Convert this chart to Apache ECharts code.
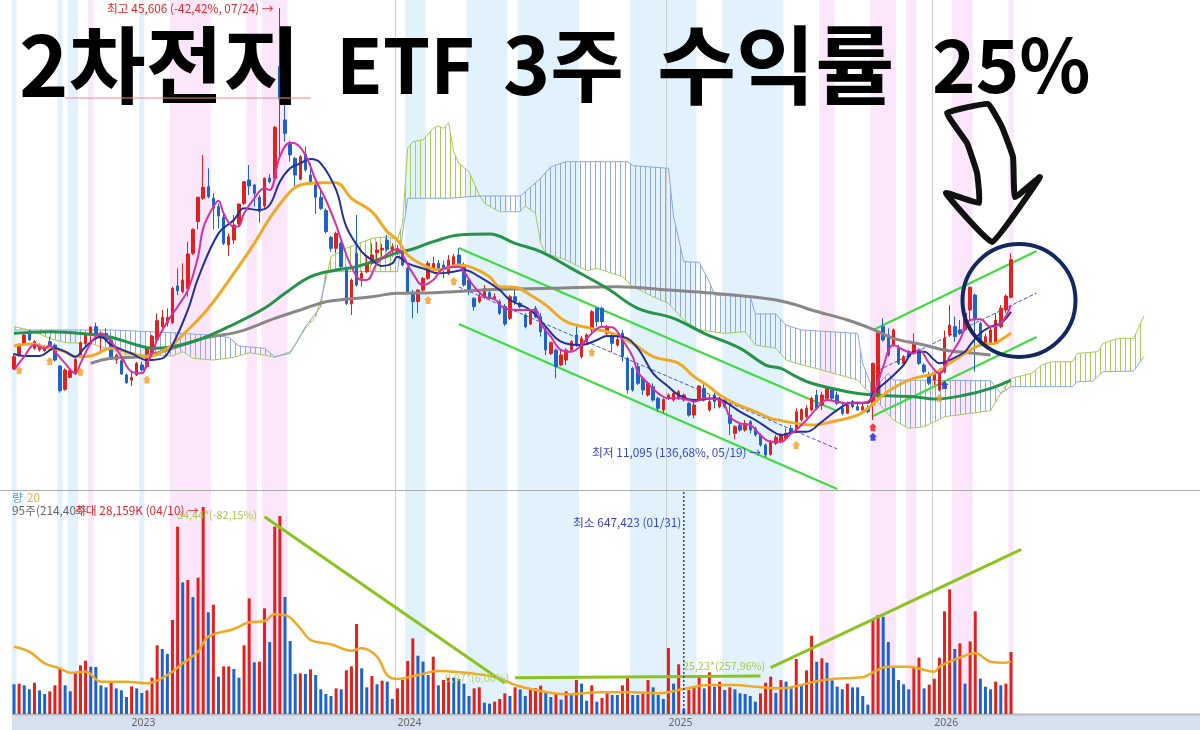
<!DOCTYPE html>
<html>
<head>
<meta charset="utf-8">
<title>2차전지 ETF</title>
<script src="https://cdn.jsdelivr.net/npm/echarts@6/dist/echarts.min.js"></script>
<style>
html, body { margin: 0; padding: 0; background: #fff; }
#chart { width: 1200px; height: 730px; }
</style>
</head>
<body>
<div id="chart"></div>
<script>
// weekly candles, [open, close, low, high]
var weeklyOhlc = [
[17890,18810,17785,19060],[18935,19705,18810,19830],[19830,20475,19705,20600],[20650,20090,20040,20860],[19450,19960,19320,20090],
[19320,19705,19190,19830],[19270,19575,19190,19705],[19960,19450,19320,20345],[19705,18550,18420,19830],[18090,16190,16040,18165],
[16295,17785,16190,17910],[17220,17730,17140,17835],[17475,18600,17400,18810],[18935,19880,18810,19960],[19830,20475,19450,20600],
[20550,21065,19830,21165],[21115,20475,20295,21420],[20215,20600,19060,20730],[20600,20090,19960,20985],[20090,18600,18550,20215],
[18550,18935,18245,19060],[18500,17475,17400,18600],[17400,16810,16710,17525],[17010,17220,16550,17655],[17400,18295,17320,18420],
[18165,17785,17655,18420],[18040,19450,17910,19575],[18935,20395,18810,20475],[20140,21575,20040,22140],[21115,21830,20860,22395],
[21420,21830,21115,22525],[21420,24060,21320,24190],[24240,23880,23545,25595],[23805,24700,23675,25980],[24060,26700,23420,27645],
[26750,28590,26620,28670],[29185,31055,28590,31105],[30980,31825,30850,34310],[31875,31105,30980,33285],[30980,30210,28590,31360],
[30335,29620,28670,30590],[29520,27520,27390,29825],[27390,28030,26545,28285],[27775,28930,27470,29695],[29005,30540,28850,30590],
[30590,32260,30465,32310],[32385,31925,31235,33540],[32000,31360,30335,32080],[31055,29950,29105,31235],[30385,32515,30210,32590],
[32515,32260,32130,32850],[32515,36435,32385,36535],[41100,38610,34180,45606],[37000,35970,35330,38535],[35150,34310,33795,35410],
[34050,32770,31925,34180],[32435,34180,32385,34310],[34385,33155,33025,34950],[32770,32130,32000,33670],[32000,31055,29775,32130],
[31055,30210,30080,31825],[30030,28415,28285,30210],[27980,27135,26880,28080],[27135,28285,26750,28415],[27520,25725,25595,27645],
[25470,22905,22780,25725],[22855,24700,22010,24830],[26750,24315,24190,29695],[24830,25210,24190,25415],[25340,25980,25210,26495],
[25980,26620,25855,27520],[26800,27005,25980,27645],[27005,27135,26495,27470],[27775,27060,26880,28160],[27005,27260,26495,27520],
[26880,27135,26620,27390],[26880,25855,25725,27135],[25595,23805,23675,25725],[23725,23035,21755,23930],[23035,23930,22140,23985],
[23930,24830,23805,24955],[24830,25980,24700,26160],[25470,25980,25340,26495],[25980,25470,25340,26235],[25855,25470,24830,26185],
[25210,26235,25085,26620],[25855,26495,25725,26700],[26620,25855,25775,27135],[25855,24315,24190,26060],[24700,23805,23545,24830],
[23290,22650,22345,23370],[23035,23420,22905,23675],[23420,24060,23265,24315],[23725,23290,23215,23930],[23290,23420,23165,23675],
[23035,22140,22010,23215],[22650,21320,21165,22855],[21755,23420,21625,23545],[23420,23035,22780,24060],[22905,22650,22525,23035],
[22010,21115,20985,22140],[21320,22265,21240,22395],[22525,21880,21755,22700],[21880,20730,20345,22140],[20860,19320,18935,21115],
[19060,19880,18935,19960],[19320,18040,17140,19450],[18165,18935,18090,19320],[18550,19320,18165,19450],[19320,19960,19190,20090],
[20475,19705,19575,21240],[18810,20215,18680,20395],[19960,20475,19830,20600],[20860,22265,20475,22395],[22525,21500,21115,22600],
[22525,21500,21115,22650],[20600,21115,20475,21240],[20345,19830,19190,20600],[19705,20140,19575,20600],[20600,18810,18420,20860],
[18680,16245,15990,18810],[17910,16245,16115,18040],[18040,16760,16630,18295],[17140,16245,15860,17270],[15860,16760,15735,16885],
[16500,15475,15350,16760],[15605,14835,14580,15735],[14705,15525,14500,15605],[15605,15860,15475,15990],[15475,15990,15350,16115],
[15605,16115,15475,16245],[15475,15860,15350,15990],[15220,14320,14195,15350],[14320,15090,14065,15350],[15475,16550,15350,16630],
[16375,15475,15350,16885],[14705,15350,14580,15860],[15860,15350,14835,16040],[14965,15605,14835,15735],[15475,14965,14835,15605],
[14320,13680,12785,15090],[12915,13425,12450,13555],[13555,13170,13040,13810],[13170,13680,13040,13940],[13810,13170,12915,13940],
[13300,12785,12660,13425],[12785,12020,11890,12915],[12020,11250,11095,12145],[11300,12275,11200,12400],[12145,12610,12020,12785],
[12275,12785,12145,12915],[12530,12915,12400,13300],[13300,12915,12785,13555],[13170,14580,12915,14835],[13940,14755,13810,14835],
[14195,14835,14065,15090],[14705,15605,14580,15735],[15860,14835,14705,16245],[15090,15860,14705,16115],[15605,16450,15475,16550],
[16245,15605,15475,16375],[15860,15220,15090,16115],[14835,14450,14320,15350],[14450,15090,14400,15350],[15350,14965,14835,15475],
[14965,14705,14655,15350],[14705,14965,14450,15170],[14835,14580,14450,15090],[15090,18295,13940,18345],[15735,20730,15605,20860],
[21115,20090,19960,21755],[20475,18935,18810,20985],[19705,20860,19575,20985],[19450,18295,18165,19705],[18295,18810,18165,18935],
[19190,18810,18680,19320],[19190,19880,19060,20600],[19320,18295,18165,19450],[18165,17655,17525,18295],[17400,16760,16630,17655],
[17010,17525,16630,17655],[16245,17785,16115,17910],[17655,20215,17525,20810],[20475,21240,20345,22780],[21115,20345,19960,21880],
[20860,20600,20475,21625],[20860,22140,20730,22395],[22395,24140,21500,24190],[23545,21755,17655,23675],[21370,19705,19575,21500],
[19830,20345,19705,20600],[19830,20860,19705,21115],[19960,21625,19830,22140],[21115,22525,20985,22780],[22395,23470,22140,23600],
[23370,26260,23290,26750]
];

// weekly volume in thousands of shares
var volumes = [
4040,4130,3900,3360,4260,3220,2720,3080,3900,6120,3900,3080,5530,6620,7250,6440,6390,3900,3630,4400,
3490,3220,2310,3760,3490,2860,3220,4940,9340,8840,8160,12790,25480,17910,18230,15910,18540,28159,13830,14870,
5080,6480,6480,6120,4940,9340,15730,7030,7120,14370,9790,25480,26930,15910,9930,5440,5530,5440,6080,5300,
3360,2720,2450,3490,3360,5940,6480,12240,6210,3630,5170,4040,4530,4400,2040,3490,
4620,7210,10290,7930,7120,5300,7800,3900,4620,4940,4940,4760,4130,2450,3490,3630,1540,1410,1680,2040,
2810,2450,3630,3360,2450,3360,3490,3850,2950,2310,2720,1950,3080,2580,4620,4130,1810,3900,1680,2180,
2810,2580,2580,3900,4900,2580,2580,2720,4620,3630,2580,2040,8980,4130,6760,647,3260,3720,5030,3490,
5670,3720,4400,3260,3630,3360,2810,2720,2450,1680,2810,4260,5080,2860,4620,4400,3490,7480,
4080,5940,10650,7120,7570,6980,4580,3720,3360,4130,3630,3630,2450,1270,12790,13470,13240,9790,6440,4620,
4040,3360,6440,7660,3490,3990,4810,7660,13960,16960,8840,9610,4130,9880,13960,4810,3720,3360,4400,3900,
4130,8430
];
// R red bar, B blue bar, one letter per week, ten weeks per chunk
var volumeColors = 'BRBBRBBRRR' + 'BBRRRBBBBR' + 'BBBRBBRRRB' + 'BRRBRBRRBR' + 'BRRBBRRBRR' + 'BRRBBBRBRB' + 'BBBRBRRRBB' + 'RBRBBR' +
	'RRRBBBRBRR' + 'BBBBRRBBRR' + 'RBRBBRRRBB' + 'RBRBRBBRBR' + 'RBBRRBBRRB' + 'BBRBRBRRRB' + 'RBRBRBBBBB' + 'RRRBRBBR' +
	'BRRBRBBBBR' + 'BBBBRRBBBB' + 'BBRRBRRRRR' + 'BRBRRBBBRB' + 'RR';

// moving averages, [week, price]
var ma5 = [[0,17785],[2,18810],[4,19705],[6,19450],[7,19705],[8,19190],[10,18295],[12,17525],[13,18295],[15,19830],[17,20600],[19,19960],[21,18810],[23,17655],[25,17525],[26,18295],[27,19060],[28,20090],[30,21500],[32,22650],[34,23930],[36,26495],[37,28670],[39,30335],[40,30800],[41,29825],[43,28800],[44,28850],[45,29825],[47,30980],[49,31745],[50,31620],[52,34180],[54,35255],[55,35205],[57,34310],[59,32385],[61,30850],[63,28930],[64,27775],[66,25725],[68,24700],[69,24700],[71,25980],[73,26700],[75,27060],[76,26620],[78,25210],[80,24315],[82,24700],[84,25595],[87,25725],[88,25340],[90,24190],[92,23420],[94,23215],[96,22525],[99,22395],[102,22395],[103,21370],[105,20345],[107,19320],[109,19190],[111,19705],[113,20600],[115,21115],[117,21065],[119,20090],[121,18810],[122,17655],[124,16760],[126,15990],[128,15605],[130,15605],[132,15475],[133,15350],[135,15605],[138,15475],[139,15090],[140,14195],[142,13680],[144,13555],[146,12785],[148,12275],[150,12275],[152,12915],[153,13170],[155,13940],[157,14835],[159,15475],[161,15350],[163,15220],[165,15220],[167,15350],[168,15735],[170,18040],[172,19705],[174,19320],[176,19060],[177,19320],[179,18295],[181,17525],[183,18810],[185,20090],[187,21625],[189,21675],[191,21115],[193,21370],[195,22780]];
var ma20 = [[0,19010],[2,18860],[5,18860],[8,19450],[10,19190],[12,18810],[14,19575],[17,20345],[19,19705],[23,19060],[26,18550],[29,18680],[31,19705],[34,22395],[36,24830],[40,28285],[43,29310],[45,30210],[48,30080],[50,30465],[52,32260],[54,33285],[56,33670],[58,34000],[60,33670],[63,31620],[65,28800],[68,26880],[70,26235],[72,25775],[74,25980],[75,26495],[77,25980],[80,25595],[83,25210],[86,25340],[88,25470],[91,24955],[95,23930],[97,23165],[101,22395],[104,21115],[107,19960],[111,19705],[114,20090],[116,20395],[119,20345],[122,19450],[125,17525],[128,16500],[130,15860],[133,15475],[137,15605],[139,15350],[142,14580],[145,13940],[148,13170],[150,12785],[153,13040],[155,13040],[158,13810],[161,14705],[164,15270],[167,15270],[168,15990],[171,17010],[174,18165],[176,19190],[178,19190],[180,18550],[181,18295],[183,18550],[186,19190],[187,19705],[189,20600],[191,21115],[193,21370],[195,22265]];
var ma60 = [[0,19630],[3,19780],[7,19450],[10,19190],[12,18810],[15,18860],[19,19450],[23,19060],[26,18810],[30,19450],[34,20860],[38,22525],[43,25210],[47,27520],[50,29440],[54,31490],[56,32000],[60,32180],[63,32180],[66,30980],[70,29950],[73,28415],[75,27775],[77,26620],[80,25855],[83,25470],[87,25855],[90,25595],[93,24955],[95,24190],[98,24140],[101,23545],[104,22780],[108,21500],[113,20985],[117,20600],[121,19830],[125,18810],[130,18295],[133,17270],[136,16500],[138,15860],[141,15220],[145,14580],[148,14065],[150,13890],[153,13680],[156,13555],[160,13810],[165,14320],[167,14835],[170,15860],[173,16630],[176,17140],[180,17525],[183,18295],[186,19060],[189,19705],[192,19830],[193,20090],[195,20600]];
var ma120 = [[0,20600],[7,20730],[15,20520],[19,20295],[24,19705],[27,19450],[31,19575],[36,20090],[42,21115],[49,22525],[53,23675],[58,24955],[63,25470],[67,25725],[71,26235],[75,26800],[78,27085],[82,27645],[87,28160],[93,28235],[98,27520],[103,26880],[109,25595],[116,24060],[122,22525],[129,21755],[135,20600],[142,19450],[147,18165],[150,17910],[153,17270],[156,16760],[163,16115],[168,15860],[176,15735],[180,15550],[186,15860],[191,16375],[195,17010]];
var ma240 = [[15,18295],[19,18680],[25,18810],[31,19450],[37,20215],[44,20730],[51,21755],[56,22395],[61,23035],[65,23215],[70,23420],[75,23675],[82,23725],[86,23805],[95,23985],[105,24060],[118,24190],[128,23930],[137,23675],[144,23420],[150,23090],[153,22780],[156,22395],[163,21625],[168,20910],[172,20215],[178,19705],[182,19320],[186,19140],[191,18935]];
var volumeMa = [[0,9160],[3,8480],[6,6890],[9,6210],[11,5620],[14,5760],[17,4400],[22,4400],[26,4170],[30,5300],[33,6890],[36,8480],[38,10520],[43,11560],[46,12470],[49,12650],[51,13560],[53,13470],[56,11650],[58,10070],[62,9480],[66,8610],[68,8930],[71,7800],[73,5300],[75,4760],[79,5300],[83,5850],[86,5760],[92,5300],[95,4850],[98,3940],[102,3260],[108,2680],[115,2950],[121,2950],[126,2810],[131,3400],[136,3940],[141,3940],[145,3720],[150,3490],[154,3940],[156,4310],[160,4760],[166,4990],[167,5300],[171,6440],[175,6440],[180,5760],[181,6440],[185,7660],[188,8250],[191,7120],[194,6980],[195,7210]];

// ichimoku cloud edges, [week, price]
var spanA = [[0,21115],[3,20860],[7,20215],[10,19880],[15,19830],[22,18935],[28,18935],[31,18860],[33,19190],[35,18680],[39,18550],[43,18755],[46,19110],[49,18935],[51,18755],[54,19190],[55,19705],[57,20985],[59,21880],[60,23165],[61,24700],[62,26495],[65,27135],[70,27905],[73,28030],[75,27775],[76,29055],[77,34820],[78,35330],[80,35460],[82,36360],[83,36535],[84,36360],[85,36790],[86,34565],[87,33670],[89,33025],[91,31235],[92,30590],[95,29950],[99,29950],[100,30390],[102,29825],[103,27520],[104,26750],[108,26235],[112,25420],[114,25595],[117,25210],[119,24955],[121,24190],[125,23420],[128,22905],[131,21625],[134,20860],[139,20600],[143,20730],[145,19705],[149,19450],[151,18550],[153,18295],[158,17785],[165,17010],[168,15735],[172,13940],[175,13300],[178,13425],[182,14195],[191,14655],[193,15990],[195,17140],[199,17525],[201,18165],[203,18420],[207,18420],[208,19060],[212,19190],[213,19830],[216,20215],[219,20215],[221,21935]];
var spanB = [[0,20860],[6,20860],[19,20860],[31,20650],[38,20475],[42,20295],[44,19630],[49,19450],[51,18810],[54,19060],[57,21115],[60,22650],[61,25340],[75,25340],[76,28285],[77,30980],[85,30980],[91,31160],[99,31160],[100,31490],[103,32515],[105,33410],[108,33795],[120,33795],[121,33490],[128,33285],[129,29570],[131,26110],[134,26060],[136,24570],[137,23545],[144,23420],[145,22090],[149,22090],[151,21240],[154,20860],[165,20600],[166,18295],[168,16245],[171,17525],[172,17010],[191,16960],[193,15990],[195,16500],[207,16500],[208,16885],[211,16935],[213,17655],[219,17705],[221,18810]];
// [first week, last week, which span is on top]
var cloudRegions = [[0,3,'A'],[3,51,'B'],[51,91,'A'],[91,193,'B'],[193,221,'A']];

// channel lines drawn on the price chart, [week, price]
var fallTop = [[87,27160],[161,14630]];
var fallMid = [[87,24162],[161,11712]];
var fallLow = [[87,21320],[161,8637]];
var riseTop = [[168,20857],[200,26930]];
var riseMid = [[168,17552],[200,23701]];
var riseLow = [[168,14247],[200,20320]];
// trend lines drawn on the volume chart, [week, volume]
var volFall = [[49,26840],[96,4230]];
var volFlat = [[98,4940],[146,5170]];
var volRise = [[148,6300],[197,22380]];

// signal arrows, [week, price]
var orangeSignals = [[1,17785],[7,18475],[13,17655],[26,17060],[81,23165],[86,24620],[113,19140],[153,12020],[181,15655]];
var redSignals = [[168,13375]];
var blueSignals = [[168,12660],[182,16630]];

// shaded week ranges
var blueBands = [[0,0],[9,9],[11,12],[25,25],[77,80],[89,96],[99,110],[121,133],[139,150]];
var pinkBands = [[15,15],[31,38],[46,47],[49,53],[158,160],[168,172],[175,176],[184,187],[195,195]];

var yearWeeks = [23,75,128,180];
var yearLabels = ['2023','2024','2025','2026'];
var minVolumeWeek = 131;

var slotCount = 232;
var categories = [];
for (var s = 0; s < slotCount; s++) {
	categories.push(String(s));
}

var RED = '#e2201c', BLUE = '#1e63c9';
var SMALL_FONT = '11.8px "Noto Sans CJK KR", "Noto Sans", sans-serif';
var LIME_FONT = '10.8px "Noto Sans CJK KR", "Noto Sans", sans-serif';
var arrowSymbol = 'path://M5 0L10 5L8 5L8 10L2 10L2 5L0 5Z';

function hatch(color) {
	var c = document.createElement('canvas');
	c.width = 5;
	c.height = 2;
	var g = c.getContext('2d');
	g.fillStyle = color;
	g.fillRect(0, 0, 1, 2);
	return { image: c, repeat: 'repeat' };
}
var hatchA = hatch('#a9cc55');
var hatchB = hatch('#8fa9e6');

function bandSeries(gridIndex, ranges, color) {
	return {
		type: 'custom',
		xAxisIndex: gridIndex,
		yAxisIndex: gridIndex,
		z: -1,
		silent: true,
		data: ranges,
		renderItem: function (params, api) {
			var r = ranges[params.dataIndex];
			var w = api.size([1, 0])[0];
			var x0 = api.coord([r[0], 0])[0] - w / 2;
			var x1 = api.coord([r[1], 0])[0] + w / 2;
			return {
				type: 'rect',
				shape: { x: x0, y: params.coordSys.y, width: x1 - x0, height: params.coordSys.height },
				style: { fill: color }
			};
		}
	};
}

function lineSeries(gridIndex, data, color, width, z, opts) {
	opts = opts || {};
	return {
		type: 'line',
		xAxisIndex: gridIndex,
		yAxisIndex: gridIndex,
		data: data,
		showSymbol: false,
		silent: true,
		smooth: opts.smooth || false,
		z: z,
		lineStyle: { color: color, width: width, type: opts.dashed ? 'dashed' : 'solid' }
	};
}

function inRange(list, from, to) {
	return list.filter(function (p) { return p[0] >= from && p[0] <= to; });
}

function text(x, y, str, color, font) {
	return { type: 'text', z: 20, style: { x: x, y: y, text: str, fill: color, font: font || SMALL_FONT, textVerticalAlign: 'middle' } };
}

function headline(x, str, size) {
	return {
		type: 'text', z: 15,
		style: { x: x, y: 65, text: str, fill: '#000', font: 'bold ' + size + 'px "Noto Sans CJK KR"', textVerticalAlign: 'middle' }
	};
}

var chart = echarts.init(document.getElementById('chart'));

var yearAt = function (index) { return yearWeeks.indexOf(index) >= 0; };
var yearSplit = { show: true, showMinLine: false, showMaxLine: false, interval: yearAt, lineStyle: { color: '#cfcfcf', width: 1 } };

chart.setOption({
	animation: false,
	backgroundColor: '#fff',
	grid: [
		{ left: 11.44, top: 0, width: 1186.2, height: 490 },
		{ left: 11.44, top: 491, width: 1186.2, height: 223 }
	],
	xAxis: [
		{
			type: 'category', gridIndex: 0, data: categories,
			axisLine: { show: false }, axisTick: { show: false }, axisLabel: { show: false },
			splitLine: yearSplit
		},
		{
			type: 'category', gridIndex: 1, data: categories,
			axisLine: { show: false }, axisTick: { show: false },
			axisLabel: {
				interval: yearAt,
				align: 'left',
				margin: 4,
				fontSize: 10.5,
				color: '#666',
				fontFamily: '"Noto Sans", sans-serif',
				formatter: function (v) { return yearLabels[yearWeeks.indexOf(Number(v))]; }
			},
			splitLine: yearSplit
		}
	],
	yAxis: [
		{ type: 'value', gridIndex: 0, min: 8560, max: 46221, show: false },
		{ type: 'value', gridIndex: 1, min: 0, max: 30335, show: false }
	],
	series: [
		bandSeries(0, blueBands, '#e2f2fc'),
		bandSeries(0, pinkBands, '#fbe6fb'),
		bandSeries(1, blueBands, '#e2f2fc'),
		bandSeries(1, pinkBands, '#fbe6fb'),
		{
			type: 'custom',
			xAxisIndex: 0,
			yAxisIndex: 0,
			z: 1,
			silent: true,
			data: cloudRegions,
			renderItem: function (params, api) {
				var r = cloudRegions[params.dataIndex];
				var top = r[2] == 'A' ? spanA : spanB;
				var bottom = r[2] == 'A' ? spanB : spanA;
				var path = inRange(top, r[0], r[1]).concat(inRange(bottom, r[0], r[1]).reverse());
				return {
					type: 'polygon',
					shape: { points: path.map(function (p) { return api.coord(p); }) },
					style: { fill: r[2] == 'A' ? hatchA : hatchB, stroke: null }
				};
			}
		},
		lineSeries(0, spanA, '#a6cb52', 1, 1),
		lineSeries(0, spanB, '#8aa7e5', 1, 1),
		{
			type: 'candlestick',
			xAxisIndex: 0,
			yAxisIndex: 0,
			z: 2,
			silent: true,
			barWidth: 3,
			data: weeklyOhlc,
			itemStyle: { color: RED, color0: BLUE, borderColor: RED, borderColor0: BLUE, borderWidth: 1 }
		},
		lineSeries(0, fallTop, '#3bdc3b', 2, 2),
		lineSeries(0, fallLow, '#3bdc3b', 2, 2),
		lineSeries(0, riseTop, '#3bdc3b', 2, 2),
		lineSeries(0, riseLow, '#3bdc3b', 2, 2),
		lineSeries(0, fallMid, '#4a55d8', 1, 2, { dashed: true }),
		lineSeries(0, riseMid, '#4a55d8', 1, 2, { dashed: true }),
		lineSeries(0, ma240, '#8b8787', 3, 3, { smooth: 0.4 }),
		lineSeries(0, ma120, '#259448', 3, 3, { smooth: 0.4 }),
		lineSeries(0, ma60, '#f0a924', 3, 3, { smooth: 0.4 }),
		lineSeries(0, ma20, '#232f9c', 2, 4, { smooth: 0.4 }),
		lineSeries(0, ma5, '#d52fa8', 2, 4, { smooth: 0.4 }),
		{
			type: 'scatter', xAxisIndex: 0, yAxisIndex: 0, z: 5, silent: true,
			symbol: arrowSymbol, symbolSize: 8, data: orangeSignals, itemStyle: { color: '#f79a24' }
		},
		{
			type: 'scatter', xAxisIndex: 0, yAxisIndex: 0, z: 5, silent: true,
			symbol: arrowSymbol, symbolSize: 8, data: redSignals, itemStyle: { color: '#e8141c' }
		},
		{
			type: 'scatter', xAxisIndex: 0, yAxisIndex: 0, z: 5, silent: true,
			symbol: arrowSymbol, symbolSize: 8, data: blueSignals, itemStyle: { color: '#1422d8' }
		},
		{
			type: 'bar',
			xAxisIndex: 1,
			yAxisIndex: 1,
			z: 2,
			silent: true,
			barWidth: 3,
			data: volumes.map(function (v, i) {
				return { value: v, itemStyle: { color: volumeColors.charAt(i) == 'R' ? RED : BLUE } };
			})
		},
		lineSeries(1, volumeMa, '#f0a924', 2.5, 3, { smooth: 0.4 }),
		lineSeries(1, volFall, '#8cc31e', 3, 4),
		lineSeries(1, volFlat, '#8cc31e', 3, 4),
		lineSeries(1, volRise, '#8cc31e', 3, 4),
		{
			type: 'line', xAxisIndex: 1, yAxisIndex: 1, z: 4, silent: true, showSymbol: false,
			data: [[minVolumeWeek, 0], [minVolumeWeek, 30335]],
			lineStyle: { color: '#2a35c0', width: 1.5, type: [2, 2] }
		}
	],
	graphic: [
		{ type: 'rect', z: -5, shape: { x: 12, y: 715, width: 1188, height: 15 }, style: { fill: '#d6e0ee' } },
		{ type: 'line', z: 1, shape: { x1: 0, y1: 490.5, x2: 1200, y2: 490.5 }, style: { stroke: '#ababab', lineWidth: 1 } },
		{ type: 'line', z: 1, shape: { x1: 12, y1: 714.5, x2: 1200, y2: 714.5 }, style: { stroke: '#b9b9b9', lineWidth: 2 } },
		headline(19, '2차전지', 84),
		headline(336, 'ETF', 76),
		headline(503, '3주', 80),
		headline(657, '수익률', 86),
		headline(932, '25%', 74),
		{ type: 'line', z: 16, shape: { x1: 65, y1: 98, x2: 311, y2: 98 }, style: { stroke: '#ee8a8a', lineWidth: 1 } },
		text(107, 9, '최고 45,606 (-42,42%, 07/24) →', '#e2272a'),
		text(592, 453, '최저 11,095 (136,68%, 05/19) →', '#3a48c8'),
		text(12, 498, '량', '#4aa6c8'),
		text(27, 498, '20', '#f0b040'),
		text(12, 511, '95주(214,40주', '#666'),
		text(75, 511, '최대 28,159K (04/10) →', '#e2272a'),
		text(177, 515, '34,44*(-82,15%)', '#a4c94a', LIME_FONT),
		text(573, 523, '최소 647,423 (01/31)', '#3a48c8'),
		text(445, 678, '0,97*(6,06%)', '#b5d36e', LIME_FONT),
		text(683, 666, '25,23*(257,96%)', '#a4c94a', LIME_FONT),
		{
			type: 'polygon',
			z: 18,
			shape: {
				points: [[947,113],[988,104],[1002,127],[1013,157],[1015,197],[1040,177],[992,242],[946,193],[979,203],[977,173],[967,143]],
				smooth: 0.1
			},
			style: { fill: 'none', stroke: '#111', lineWidth: 6, lineJoin: 'round' }
		},
		{ type: 'circle', z: 18, shape: { cx: 1019, cy: 300.5, r: 56.5 }, style: { fill: 'none', stroke: '#12295f', lineWidth: 4 } }
	]
});
</script>
</body>
</html>
